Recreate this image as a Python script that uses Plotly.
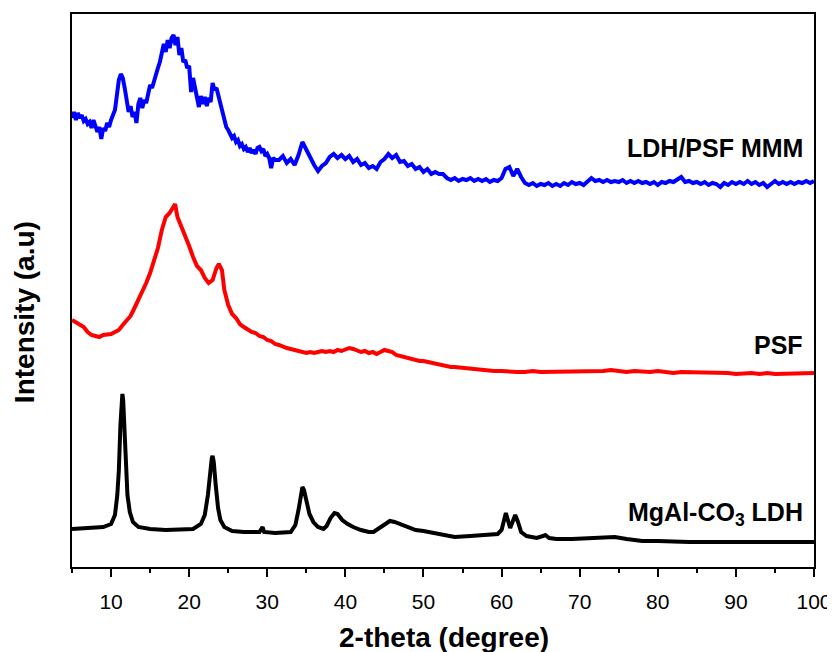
import plotly.graph_objects as go

# ---------------- data (intensity in arbitrary units) ----------------
# LDH/PSF MMM: 0.25-degree sampling from 5 to 31, 0.5-degree sampling from 31.5 to 100
blue_x = [5 + 0.25 * i for i in range(105)] + [31.5 + 0.5 * i for i in range(138)]
blue_y = [449, 455, 447, 454, 449, 452, 446, 448, 443, 445,
          439, 447, 441, 435, 440, 428, 439, 436, 444, 440,
          447, 453, 457, 472, 487, 493, 489, 479, 469, 455,
          461, 450, 455, 444, 463, 469, 459, 467, 464, 475,
          482, 479, 487, 495, 499, 505, 517, 523, 515, 527,
          519, 529, 532, 522, 530, 512, 519, 505, 507, 499,
          501, 475, 489, 479, 469, 460, 471, 463, 470, 461,
          469, 465, 484, 477, 479, 471, 467, 457, 449, 440,
          437, 433, 429, 431, 425, 427, 421, 423, 418, 420,
          415, 419, 414, 417, 413, 419, 420, 416, 418, 411,
          413, 409, 399, 409, 407,
          407, 411, 404, 408, 402, 412, 425, 417, 411, 402,
          396, 401, 404, 410, 413, 409, 412, 408, 411, 405,
          408, 402, 404, 399, 401, 398, 405, 408, 413, 409,
          412, 405, 406, 401, 403, 398, 400, 395, 398, 393,
          395, 393, 393, 389, 387, 389, 386, 388, 387, 389,
          386, 388, 386, 388, 385, 387, 386, 389, 398, 400,
          391, 398, 390,
          384, 382, 384, 381, 383, 382, 384, 381, 383, 381, 384, 382, 385, 383, 384, 382,
          386, 389, 386, 387, 385, 387, 385, 386, 385, 387, 384, 386, 384, 386, 384, 385,
          383, 385, 382, 385, 384, 386, 385, 387, 390, 385, 386, 384, 385, 383, 385, 382,
          384, 383, 380, 384, 382, 385, 383, 385, 383, 386, 383, 385, 382, 384, 380, 383,
          386, 383, 385, 383, 385, 383, 385, 384, 386, 384, 386]

red_x = [5.0, 5.5, 6.0, 6.5, 7.0, 7.5, 8.0, 8.5, 9.0, 9.5, 10.0, 10.5, 11.0, 11.5, 12.0, 12.5,
         13.0, 13.5, 14.0, 14.5, 15.0, 15.5, 16.0, 16.5, 17.0, 17.5, 18.0, 18.2, 18.5, 19.0,
         19.5, 20.0, 20.5, 21.0, 21.5, 22.0, 22.5, 23.0, 23.5, 23.8, 24.2, 24.5, 25.0, 25.5,
         26.0, 26.5, 27.0, 27.5, 28.0, 28.5, 29.0, 29.5, 30.0, 30.5, 31.0, 31.5, 32.0, 32.5,
         33.0, 33.5, 34.0, 34.5, 35.0, 35.5, 36.0, 36.5, 37.0, 37.5, 38.0, 38.5, 39.0, 39.5,
         40.0, 40.5, 41.0, 41.5, 42.0, 42.5, 43.0, 43.5, 44.0, 44.5, 45.0, 45.5, 46.0, 46.5,
         47.0, 47.5, 48.0, 48.5, 49.0, 49.5, 50.0, 50.5, 51.0, 51.5, 52.0, 52.5, 53.0, 53.5,
         54.0, 55.0, 56.0, 57.0, 58.0, 59.0, 60.0, 61.0, 62.0, 63.0, 64.0, 65.0, 66.0, 67.0,
         68.0, 69.0, 70.0, 71.0, 72.0, 73.0, 74.0, 75.0, 76.0, 77.0, 78.0, 79.0, 80.0, 81.0,
         82.0, 83.0, 84.0, 85.0, 86.0, 87.0, 88.0, 89.0, 90.0, 91.0, 92.0, 93.0, 94.0, 95.0,
         96.0, 97.0, 98.0, 99.0, 100.0]
red_y = [247, 245, 242, 240, 235, 232, 231, 230, 232, 232, 233, 235, 237, 242, 246, 251,
         259, 267, 275, 284, 294, 305, 319, 337, 350, 354, 360, 363, 350, 341,
         330, 321, 310, 301, 297, 289, 284, 287, 299, 303, 297, 277, 262, 253,
         249, 243, 240, 237, 235, 234, 231, 230, 227, 226, 223, 222, 220, 219,
         218, 217, 216, 215, 214, 215, 214, 215, 216, 215, 216, 215, 217, 216,
         217, 219, 218, 217, 215, 216, 214, 215, 213, 215, 217, 216, 215, 212,
         211, 209, 209, 208, 207, 206, 206, 205, 205, 204, 203, 202, 201, 200,
         200, 199, 198, 197, 197, 196, 196, 195, 195, 195, 196, 195, 195, 196,
         196, 195, 196, 196, 195, 196, 197, 196, 195, 196, 195, 195, 196, 195,
         194, 195, 195, 194, 195, 194, 195, 194, 193, 194, 194, 193, 194, 193,
         193, 194, 193, 193, 194]

black_x = [5.0, 7.0, 9.0, 10.0, 10.5, 10.8, 11.0, 11.2, 11.35, 11.45, 11.55, 11.7, 11.9, 12.1,
           12.4, 12.8, 13.5, 15.0, 17.0, 19.0, 20.5, 21.5, 22.0, 22.4, 22.7, 22.9, 23.0, 23.15,
           23.4, 23.7, 24.0, 24.5, 25.5, 27.0, 29.0, 29.4, 29.6, 31.0, 33.0, 33.6, 34.0, 34.3,
           34.5, 34.7, 35.0, 35.4, 35.9, 36.5, 37.2, 37.6, 38.1, 38.6, 39.0, 39.6, 40.3, 41.0,
           42.0, 43.0, 43.6, 44.3, 45.0, 45.7, 46.3, 47.0, 48.0, 49.0, 50.0, 51.5, 53.0, 54.0,
           56.0, 58.0, 59.5, 60.0, 60.3, 60.55, 60.8, 61.1, 61.4, 61.75, 62.1, 62.5, 63.2, 64.5,
           65.3, 65.6, 66.1, 67.0, 69.0, 71.0, 73.0, 74.5, 76.0, 78.0, 80.0, 84.0, 90.0, 95.0,
           100.0]
black_y = [38, 39, 40, 43, 52, 72, 97, 142, 167, 173, 167, 137, 97, 72,
           55, 45, 40, 38, 37, 37, 38, 43, 52, 72, 97, 109, 111, 105,
           82, 59, 47, 40, 36, 35, 35, 40, 35, 34, 35, 42, 57, 74,
           80, 77, 65, 53, 45, 40, 38, 41, 49, 54, 53, 47, 43, 40,
           37, 35, 35, 39, 43, 46, 45, 43, 40, 37, 36, 34, 32, 30,
           31, 32, 33, 37, 49, 54, 47, 39, 45, 52, 45, 35, 31, 29,
           31, 32, 29, 28, 28, 29, 30, 30, 28, 26, 26, 25, 25, 25,
           25]

labels = ["LDH/PSF MMM", "PSF", "MgAl-CO<sub>3</sub> LDH"]
label_y = [419, 222, 53]

x_ticks = [10, 20, 30, 40, 50, 60, 70, 80, 90, 100]

FONT = "Arial, Liberation Sans, sans-serif"

fig = go.Figure()
fig.add_trace(go.Scatter(x=black_x, y=black_y, mode="lines",
                         line=dict(color="#000000", width=4), showlegend=False))
fig.add_trace(go.Scatter(x=red_x, y=red_y, mode="lines",
                         line=dict(color="#FF0000", width=4), showlegend=False))
fig.add_trace(go.Scatter(x=blue_x, y=blue_y, mode="lines",
                         line=dict(color="#0000FF", width=4), showlegend=False))

for t, yv in zip(labels, label_y):
    fig.add_annotation(x=98.8, y=yv, xref="x", yref="y", text="<b>" + t + "</b>",
                       showarrow=False, xanchor="right", yanchor="middle",
                       font=dict(family=FONT, size=25, color="#000000"))

# axis titles
fig.add_annotation(x=0.502, y=-0.128, xref="paper", yref="paper",
                   text="<b>2-theta (degree)</b>", showarrow=False,
                   xanchor="center", yanchor="middle",
                   font=dict(family=FONT, size=28, color="#000000"))
fig.add_annotation(x=-0.064, y=0.46, xref="paper", yref="paper",
                   text="<b>Intensity (a.u)</b>", showarrow=False, textangle=-90,
                   xanchor="center", yanchor="middle",
                   font=dict(family=FONT, size=28, color="#000000"))

# the page places the figure 8 px in from the top-left corner
fig.update_layout(
    width=827, height=644,
    margin=dict(l=64, r=21, t=6, b=85, autoexpand=False),
    paper_bgcolor="white", plot_bgcolor="white",
    font=dict(family=FONT, color="#000000"),
    showlegend=False,
)
fig.update_xaxes(
    range=[5, 100], tickvals=x_ticks, ticktext=[str(v) for v in x_ticks],
    ticks="outside", ticklen=8, tickwidth=2, tickcolor="#000000",
    minor=dict(ticks="outside", ticklen=4, tickwidth=2, tickcolor="#000000", dtick=5, tick0=5),
    showline=True, linewidth=2, linecolor="#000000", mirror=True,
    showgrid=False, zeroline=False, automargin=False,
    ticklabelstandoff=7,
    tickfont=dict(family=FONT, size=21, color="#000000"),
)
fig.update_yaxes(
    range=[0, 553], showticklabels=False, ticks="",
    showline=True, linewidth=2, linecolor="#000000", mirror=True,
    showgrid=False, zeroline=False, automargin=False,
)

fig.write_html("out.html")
